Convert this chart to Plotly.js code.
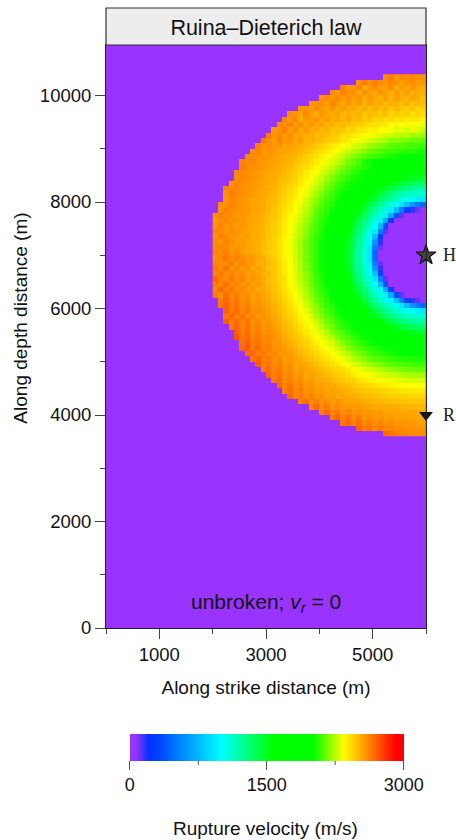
<!DOCTYPE html>
<html><head><meta charset="utf-8">
<script src="https://cdn.plot.ly/plotly-3.0.1.min.js"></script>
<style>html,body{margin:0;padding:0;background:#fff}</style></head>
<body><div id="chart" style="width:456px;height:840px"></div>
<script>
// Rupture velocity in tens of m/s. One row per 100 m of depth, top (10350 m) to bottom (3650 m);
// each row is read from the fault edge (x = 5950 m) leftward to the rupture front, 100 m per cell.
const vrRows = [
[259,258,261,259,262,257,263,260],
[258,256,259,258,255,259,261,257,260,262,258,263,259],
[253,255,258,254,257,252,259,256,255,260,257,254,261,258,256,262],
[252,254,251,256,253,257,252,255,258,254,256,259,253,260,257,262,256,259],
[249,252,254,250,253,255,251,256,252,254,257,253,258,255,259,256,261,257,260,258],
[248,250,247,252,249,251,253,250,254,252,255,251,256,253,258,254,257,262,256,260,258,259],
[245,243,248,245,246,250,247,251,249,252,248,253,250,254,252,256,253,258,255,257,260,256,259,258],
[241,244,240,245,243,246,244,249,246,248,250,247,251,249,252,250,255,252,254,258,253,256,260,255,258,259],
[237,239,240,238,242,240,243,241,245,243,247,246,250,248,253,250,254,252,256,253,258,255,257,252,261,257,260],
[232,235,233,236,234,237,235,239,240,242,241,244,245,247,248,250,249,253,251,255,254,258,255,259,256,262,258,261],
[227,229,231,228,232,230,233,235,234,238,236,240,241,244,243,246,248,247,251,250,254,252,257,254,260,256,263,258,257],
[220,223,221,225,223,226,228,227,230,231,234,233,237,238,242,241,245,246,248,250,249,253,251,255,254,259,256,261,258,263],
[213,215,214,217,216,219,218,223,224,227,229,231,233,235,238,240,243,245,246,249,250,252,251,256,254,258,257,262,256,260,264],
[208,210,209,211,212,211,213,216,217,220,222,225,227,229,232,234,237,239,242,245,246,248,250,252,253,255,254,258,257,260,258,263],
[203,204,206,205,207,208,208,209,211,213,215,218,222,224,227,230,233,236,238,241,243,246,248,250,252,253,255,254,257,258,256,261,259],
[198,199,199,200,201,202,204,205,207,208,210,212,215,218,222,226,229,232,235,238,240,243,245,248,250,252,253,254,255,257,258,259,260,261],
[185,186,186,188,190,192,194,197,199,201,203,205,211,214,217,222,226,229,232,235,238,241,244,246,248,250,252,254,255,256,257,258,261,260,262],
[172,173,173,176,180,183,188,194,198,201,203,205,208,210,213,217,221,226,229,232,235,239,242,244,246,249,251,253,254,255,257,258,259,260,263],
[158,160,161,163,166,172,175,180,188,194,198,202,205,207,210,213,217,222,226,229,233,236,239,243,245,247,250,252,253,254,255,256,258,259,260,262],
[147,149,150,153,156,158,163,168,175,183,191,197,202,204,207,210,213,217,222,227,230,234,237,240,244,246,248,250,253,254,255,257,258,259,261,259],
[135,136,137,140,143,149,154,157,165,172,180,188,197,202,204,207,210,214,218,223,228,232,235,239,242,245,247,249,252,253,255,256,257,258,259,262,258],
[121,122,124,128,132,136,142,149,155,161,168,178,188,197,202,205,208,211,215,220,225,229,233,236,240,243,246,248,250,253,254,255,257,258,259,261,259,262],
[110,111,113,115,119,124,130,137,144,153,160,168,178,188,197,202,205,209,212,217,222,227,231,235,239,242,245,247,250,252,254,255,257,258,259,260,263,258],
[92,95,98,104,107,114,119,126,135,143,151,160,168,180,191,198,203,207,210,214,219,224,229,233,237,240,244,246,249,251,253,254,255,256,258,259,261,258],
[45,52,62,76,92,102,110,116,124,133,143,153,161,172,183,194,201,205,208,212,217,222,227,231,235,239,243,245,248,250,253,254,255,257,258,259,262,258,260],
[6,11,16,30,52,76,96,106,115,124,135,144,155,165,175,188,198,203,207,210,214,220,225,230,234,238,241,244,247,250,252,254,255,257,258,259,260,262,258],
[0,0,0,2,12,35,70,95,106,116,126,137,149,157,168,182,194,201,205,209,212,218,223,229,232,236,240,244,246,249,251,253,254,256,258,257,260,259,263,258],
[0,0,0,0,0,6,30,70,96,110,119,130,142,154,163,175,188,198,204,207,211,216,222,227,231,235,239,243,246,248,251,253,254,255,257,259,258,261,259,257],
[0,0,0,0,0,0,6,35,76,102,114,124,136,149,158,172,183,194,202,206,210,214,220,225,230,234,238,242,245,248,250,252,253,255,257,256,259,258,262,259],
[0,0,0,0,0,0,0,12,52,92,107,119,132,143,156,166,180,193,201,205,209,213,218,224,229,234,238,242,245,247,250,252,254,255,256,258,260,257,259,261],
[0,0,0,0,0,0,0,2,30,77,104,115,128,140,153,163,176,191,200,204,208,212,218,224,229,233,237,241,244,247,250,253,252,256,255,258,257,260,263,258],
[0,0,0,0,0,0,0,0,16,62,98,113,124,137,150,161,172,186,198,203,207,211,216,222,227,232,236,240,244,246,249,252,253,254,257,256,259,261,258,260],
[0,0,0,0,0,0,0,0,11,52,95,111,122,136,149,160,172,186,197,203,207,211,216,222,227,232,236,240,244,246,250,251,253,255,256,258,257,260,262,259],
[0,0,0,0,0,0,0,0,6,45,92,110,121,135,147,158,172,185,197,203,207,211,216,222,227,232,236,240,244,246,249,252,254,253,256,259,258,262,259,261],
[0,0,0,0,0,0,0,0,6,45,92,110,121,135,147,158,172,185,197,203,207,211,216,222,228,233,237,241,245,248,252,254,257,256,260,262,259,264,261,258],
[0,0,0,0,0,0,0,0,11,52,95,111,122,136,149,160,172,186,197,203,207,212,217,223,228,233,238,242,246,249,253,252,256,258,261,257,263,260,259,262],
[0,0,0,0,0,0,0,0,16,62,98,113,124,137,150,161,172,186,198,203,207,212,217,223,229,233,238,242,246,248,251,255,254,259,257,261,258,265,260,263],
[0,0,0,0,0,0,0,2,30,77,104,115,128,140,153,163,176,191,200,204,208,213,219,225,230,234,239,243,246,250,252,254,257,255,260,258,262,259,264,261],
[0,0,0,0,0,0,0,12,52,92,107,119,132,143,156,166,180,193,201,205,209,214,219,225,230,235,240,243,247,249,253,255,258,256,261,259,264,260,262,267],
[0,0,0,0,0,0,6,35,76,102,114,124,136,149,158,172,183,194,202,206,210,215,221,226,231,235,240,244,247,250,253,256,255,259,257,262,260,266,261,263],
[0,0,0,0,0,6,30,70,96,110,119,130,142,154,163,175,188,198,204,207,211,217,223,228,232,237,241,245,248,251,254,253,258,256,261,259,264,262,268,260],
[0,0,0,2,12,35,70,95,106,116,126,137,149,157,168,182,194,201,205,209,213,219,224,230,234,238,242,246,248,252,254,257,255,260,258,263,261,266,259,264],
[6,11,16,30,52,76,96,106,115,124,135,144,155,165,175,188,198,203,207,210,215,221,226,231,235,240,243,247,250,253,255,258,256,262,259,265,261,268,263],
[45,52,62,76,92,102,110,116,124,133,143,153,161,172,183,194,201,205,208,213,218,223,228,233,237,241,245,248,251,254,256,259,257,263,260,266,262,270,264],
[92,95,98,104,107,114,119,126,135,143,151,160,168,180,191,198,203,207,211,215,220,225,231,235,239,242,246,249,252,255,257,260,258,264,261,267,263,269],
[110,111,113,115,119,124,130,137,144,153,160,168,178,188,197,202,205,209,213,218,223,229,233,237,241,244,247,251,253,256,259,257,262,260,265,261,268,264],
[121,122,124,128,132,136,142,149,155,161,168,178,188,197,202,205,208,212,216,221,227,231,235,238,242,246,249,252,255,258,256,261,259,265,262,268,263,270],
[135,136,137,140,143,149,154,157,165,172,180,188,197,202,204,207,210,215,219,225,230,234,237,241,244,247,250,253,256,259,257,262,260,266,262,269,264],
[147,149,150,153,156,158,163,168,175,183,191,197,202,204,207,211,214,218,224,229,232,236,239,242,246,249,251,255,257,260,258,263,261,267,263,270],
[158,160,161,163,166,172,175,180,188,194,198,202,205,207,211,214,218,224,228,231,235,238,241,245,247,250,253,256,258,261,259,264,262,268,265,272],
[172,173,173,176,180,183,188,194,198,201,203,205,208,211,214,218,223,228,231,234,237,241,244,246,249,252,255,258,257,262,260,265,263,270,266],
[185,186,186,188,190,192,194,197,203,205,207,209,212,215,219,224,228,231,234,237,240,243,246,248,251,254,256,259,258,263,261,267,264,271,268],
[198,199,199,200,201,202,204,205,207,208,210,213,216,220,224,228,231,234,237,240,242,245,247,250,253,256,258,257,262,260,265,263,269,266],
[204,204,205,205,206,207,208,209,211,213,215,218,222,224,228,232,235,238,240,243,245,248,250,253,255,257,256,261,259,264,262,268,265],
[209,209,209,210,211,212,213,215,217,219,222,224,227,229,233,236,239,241,244,246,248,251,253,255,254,259,257,262,260,266,263,270],
[214,214,215,216,217,218,220,222,224,226,228,230,232,236,238,241,243,245,247,249,251,253,255,257,254,260,258,264,261,268,263],
[222,222,223,223,224,226,227,228,229,231,233,234,236,239,241,244,245,247,249,251,253,255,254,258,256,261,259,265,262,269],
[229,229,229,229,230,231,232,233,234,236,237,239,240,244,245,246,248,250,252,254,253,257,255,260,258,263,260,267,264],
[234,234,234,234,235,236,237,238,239,240,242,243,245,247,248,249,251,253,254,256,255,259,257,262,259,265,261,268],
[239,239,239,239,240,241,242,243,244,245,246,247,248,249,251,252,253,255,254,257,256,260,258,263,260,266,262],
[243,243,243,244,244,245,245,246,247,248,249,250,251,252,253,254,253,256,255,259,257,262,259,264,261,268],
[247,247,247,247,248,248,249,249,250,251,252,252,254,255,254,256,258,256,260,258,263,259,266,262],
[250,250,250,251,251,252,252,253,254,253,255,255,257,256,258,257,260,258,264,260,267,262],
[253,253,254,254,254,255,255,254,256,256,258,257,259,258,262,259,265,261,268,263],
[254,254,255,255,256,255,257,256,258,257,260,258,263,260,266,262,269,264],
[256,256,257,257,258,257,259,258,261,259,263,260,266,262,268,264],
[258,258,259,258,260,259,262,260,264,261,266,263,269],
[259,260,260,261,262,263,265,268]
];
const xFirstCell = 2050, cellSize = 100, yFirstCell = 3650, colCount = 40;
const xLabelTicks = [1000,3000,5000];
const xMinorTicks = [0,2000,4000,6000];
const yLabelTicks = [0,2000,4000,6000,8000,10000];
const yMinorTicks = [1000,3000,5000,7000,9000];
const colourTicks = [0,1500,3000];
const colourMinor = [750,2250];
const pointNames = ['H','R'], pointX = [6000,6000], pointY = [7000,4000];

const z = vrRows.slice().reverse().map(r=>{
  const out = new Array(colCount).fill(null);
  r.forEach((v,i)=>{ out[colCount-1-i] = v*10; });
  return out;
});
const scale = [[0,'#9933FF'],[0.02,'#9933FF'],[0.07,'#0033FF'],[0.1,'#0040FF'],[0.335,'#00FFFF'],
  [0.52,'#00FF00'],[0.67,'#00FF00'],[0.78,'#FFFF00'],[0.97,'#FF0000'],[1,'#FF0000']];
const W=456,H=840,L=106,R=426.5,T=45,B=628;
const cbL=130,cbR=404,cbT=734,cbB=761;
const font='"Liberation Sans", Arial, sans-serif';
const pY=v=>(B-v)/(B-T), pX=v=>(v-L)/(R-L);
const traces=[
 {type:'heatmap',z:z,x0:xFirstCell,dx:cellSize,y0:yFirstCell,dy:cellSize,zmin:0,zmax:3000,colorscale:scale,hoverongaps:false,
  colorbar:{orientation:'h',xref:'container',yref:'container',x:0.8338,xanchor:'center',y:1-cbT/H,yanchor:'top',
   lenmode:'pixels',len:cbR-cbL,thickness:cbB-cbT,thicknessmode:'pixels',xpad:0,ypad:0,outlinewidth:0,
   tickmode:'array',tickvals:colourTicks,ticktext:colourTicks.map(String),ticks:'outside',ticklen:9,tickcolor:'#555',tickwidth:1,
   ticklabeloverflow:'allow',tickfont:{family:font,size:18,color:'#111'}}},
 {type:'scatter',mode:'markers',x:[pointX[0]],y:[pointY[0]],cliponaxis:false,hoverinfo:'skip',showlegend:false,
  marker:{symbol:'star',size:15,color:'#444',line:{color:'#111',width:1.2}}},
 {type:'scatter',mode:'markers',x:[pointX[1]],y:[pointY[1]],cliponaxis:false,hoverinfo:'skip',showlegend:false,
  marker:{symbol:'triangle-down',size:12,color:'#111',line:{width:0}}}
];
const axisCommon={showgrid:false,zeroline:false,showline:true,mirror:true,linecolor:'#222',linewidth:1,ticks:'outside',tickcolor:'#444',tickwidth:1,ticklen:10,tickfont:{family:font,size:18.5,color:'#111'}};
const shapes=[{type:'rect',xref:'paper',yref:'paper',x0:0,x1:1,y0:1,y1:pY(8),fillcolor:'#EDEDED',line:{color:'#333',width:1.2}}];
colourMinor.forEach(v=>{const px=pX(cbL+(cbR-cbL)*v/3000);
  shapes.push({type:'line',xref:'paper',yref:'paper',x0:px,x1:px,y0:pY(cbB),y1:pY(cbB+4),line:{color:'#555',width:1}});});
const midText=(x,y,text,size,extra)=>Object.assign({xref:'paper',yref:'paper',x:pX(x),y:pY(y),xanchor:'center',yanchor:'middle',text:text,showarrow:false,font:{family:font,size:size,color:'#111'}},extra||{});
const layout={width:W,height:H,paper_bgcolor:'#fff',plot_bgcolor:'#9933FF',margin:{l:L,r:W-R,t:T,b:H-B,pad:0},
 font:{family:font,color:'#111'},showlegend:false,
 title:{text:'Ruina–Dieterich law',font:{family:font,size:21.5,color:'#111'},xref:'paper',x:0.5,xanchor:'center',yref:'container',y:1-27.5/H,yanchor:'middle'},
 xaxis:Object.assign({},axisCommon,{range:[0,6000],tickmode:'array',tickvals:xLabelTicks,ticktext:xLabelTicks.map(String),
   minor:{tickmode:'array',tickvals:xMinorTicks,ticks:'outside',ticklen:5,tickcolor:'#444',tickwidth:1},
   title:{text:'Along strike distance (m)',font:{family:font,size:19,color:'#111'},standoff:16}}),
 yaxis:Object.assign({},axisCommon,{range:[0,(B-T)/53.25*1000],tickmode:'array',tickvals:yLabelTicks,ticktext:yLabelTicks.map(String),
   minor:{tickmode:'array',tickvals:yMinorTicks,ticks:'outside',ticklen:5,tickcolor:'#444',tickwidth:1}}),
 shapes:shapes,
 annotations:[
  midText(20,318.5,'Along depth distance (m)',19,{textangle:-90}),
  midText(266,828,'Rupture velocity (m/s)',19),
  midText(266,603,'unbroken; <i>v<sub>r</sub></i> = 0',21),
  {xref:'x',yref:'y',x:pointX[0],y:pointY[0],xshift:15,xanchor:'left',yanchor:'middle',text:pointNames[0],showarrow:false,font:{family:'"Liberation Serif",serif',size:18,color:'#222'}},
  {xref:'x',yref:'y',x:pointX[1],y:pointY[1],xshift:15,xanchor:'left',yanchor:'middle',text:pointNames[1],showarrow:false,font:{family:'"Liberation Serif",serif',size:18,color:'#222'}}
 ]};
Plotly.newPlot('chart',traces,layout,{displayModeBar:false,responsive:false});
</script></body></html>
